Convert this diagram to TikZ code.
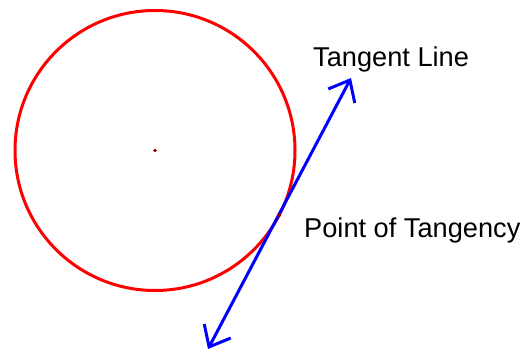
\documentclass[tikz,border=0pt]{standalone}
\usepackage{fontspec}
\setmainfont{Liberation Sans}
\usetikzlibrary{arrows.meta}
\tikzset{
  circ/.style={draw=red, line width=3pt},
  tline/.style={draw=blue, line width=3pt, line cap=round,
    {Straight Barb[length=18pt,width=30pt,line width=3pt]}-{Straight Barb[length=18pt,width=30pt,line width=3pt]}},
  lbl/.style={inner sep=0pt, anchor=base west, font=\fontsize{27.2pt}{30pt}\selectfont, text=black},
  pt/.style={fill=red!55!black, draw=none}
}
\begin{document}
\begin{tikzpicture}[x=1pt,y=1pt]
\useasboundingbox (0,0) rectangle (524,353);
\coordinate (C) at (155,202.5);
\coordinate (A) at (208,4);
\coordinate (B) at (351,275);
\coordinate (P) at (279,138);
\draw[circ] (C) circle (140);
\draw[tline] (A) -- (B);
\fill[pt] (C) circle (1.8);
\fill[pt] (P) circle (2);
\node[lbl] (t1) at (313,286.3) {Tangent Line};
\node[lbl] (t2) at (304,115) {Point of Tangency};
\end{tikzpicture}
\end{document}
